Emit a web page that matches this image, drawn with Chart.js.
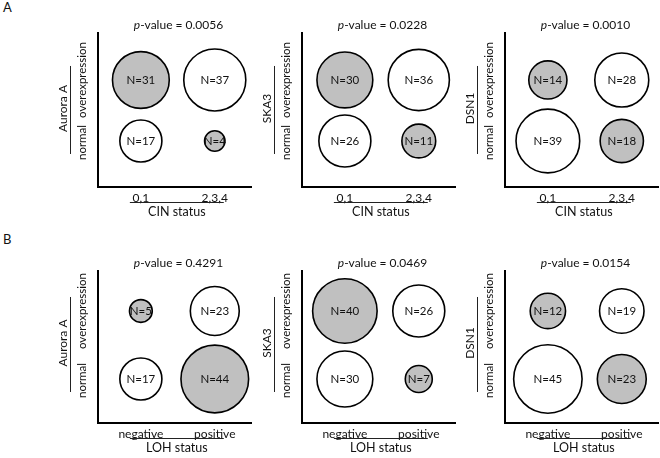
<!DOCTYPE html>
<html><head><meta charset="utf-8">
<script src="https://cdn.jsdelivr.net/npm/chart.js@4.4.1/dist/chart.umd.min.js"></script>
<style>
html,body{margin:0;padding:0;background:#fff;width:660px;height:458px;overflow:hidden;}
body{position:relative;font-family:Lato,sans-serif;}
canvas{position:absolute;}
.tag{position:absolute;font-family:Lato,sans-serif;font-size:13px;line-height:13px;color:#111;}
</style></head><body>
<div class="tag" style="left:3px;top:1px">A</div>
<div class="tag" style="left:3px;top:233px">B</div>
<script>
// ---------- data ----------
const cinStatus = ['0,1', '2,3,4'];
const lohStatus = ['negative', 'positive'];
const expressionLevels = ['normal', 'overexpression'];
const genes = ['Aurora A', 'SKA3', 'DSN1'];
const cinPValues = ['0.0056', '0.0228', '0.0010'];
const lohPValues = ['0.4291', '0.0469', '0.0154'];
// counts per expression level, ordered by status category [first, second]
const cinAuroraANormal = [17, 4];
const cinAuroraAOver   = [31, 37];
const cinSka3Normal    = [26, 11];
const cinSka3Over      = [30, 36];
const cinDsn1Normal    = [39, 18];
const cinDsn1Over      = [14, 28];
const lohAuroraANormal = [17, 44];
const lohAuroraAOver   = [5, 23];
const lohSka3Normal    = [30, 7];
const lohSka3Over      = [40, 26];
const lohDsn1Normal    = [45, 23];
const lohDsn1Over      = [12, 19];

// ---------- layout ----------
const FONT = 'Lato, sans-serif';
const TXT = '#111';
const GRAY = '#c0c0c0';
const axisLeft = [98, 302, 505];
const rows = [
  {top: 33, areaH: 154, bottomH: 40, yMin: -0.754, yMax: 1.77, cats: cinStatus, axisTitle: 'CIN status', p: cinPValues,
   normal: [cinAuroraANormal, cinSka3Normal, cinDsn1Normal], over: [cinAuroraAOver, cinSka3Over, cinDsn1Over]},
  {top: 271, areaH: 152, bottomH: 36, yMin: -0.647, yMax: 1.588, cats: lohStatus, axisTitle: 'LOH status', p: lohPValues,
   normal: [lohAuroraANormal, lohSka3Normal, lohDsn1Normal], over: [lohAuroraAOver, lohSka3Over, lohDsn1Over]}
];
const PADL = 50, PADR = 2, PADT = 30, AREAW = 153;

function rotText(ctx, text, x, y) {
  ctx.save(); ctx.translate(x, y); ctx.rotate(-Math.PI / 2);
  ctx.textAlign = 'center'; ctx.textBaseline = 'middle';
  ctx.fillText(text, 0, 0); ctx.restore();
}

function makePanel(row, gi) {
  const cv = document.createElement('canvas');
  const W = PADL + AREAW + PADR, H = PADT + row.areaH + row.bottomH;
  cv.width = W; cv.height = H;
  cv.style.left = (axisLeft[gi] - PADL) + 'px';
  cv.style.top = (row.top - PADT) + 'px';
  document.body.appendChild(cv);

  const normal = row.normal[gi], over = row.over[gi];
  const pts = [];
  [over, normal].forEach((arr, k) => {
    const yv = k === 0 ? 1 : 0;
    arr.forEach((n, xi) => pts.push({x: xi, y: yv, n: n, r: 5.1 * Math.sqrt(n)}));
  });

  const deco = {
    id: 'deco' + gi,
    afterDatasetsDraw(chart) {
      const ctx = chart.ctx;
      const meta = chart.getDatasetMeta(0);
      ctx.save();
      ctx.fillStyle = TXT;
      ctx.font = '11.5px ' + FONT;
      ctx.textAlign = 'center'; ctx.textBaseline = 'middle';
      meta.data.forEach((el, i) => ctx.fillText('N=' + pts[i].n, el.x, el.y + 0.5));
      ctx.restore();
    },
    afterDraw(chart) {
      const ctx = chart.ctx, a = chart.chartArea;
      const xs = chart.scales.x, ys = chart.scales.y;
      const yOver = ys.getPixelForValue(1), yNorm = ys.getPixelForValue(0);
      const x0 = xs.getPixelForValue(0), x1 = xs.getPixelForValue(1);
      ctx.save();
      ctx.fillStyle = TXT; ctx.strokeStyle = '#222'; ctx.lineWidth = 1;
      // title with italic p
      const rest = '-value = ' + row.p[gi];
      ctx.font = 'italic 12px ' + FONT; const wp = ctx.measureText('p').width;
      ctx.font = '12px ' + FONT; const wr = ctx.measureText(rest).width;
      const cx = (a.left + a.right) / 2 + 4;
      const ty = a.top - 8;
      const sx = cx - (wp + wr) / 2;
      ctx.textAlign = 'left'; ctx.textBaseline = 'middle';
      ctx.font = 'italic 12px ' + FONT; ctx.fillText('p', sx, ty);
      ctx.font = '12px ' + FONT; ctx.fillText(rest, sx + wp, ty);
      // y-side labels
      ctx.font = '11.5px ' + FONT;
      rotText(ctx, expressionLevels[1], a.left - 16, yOver);
      rotText(ctx, expressionLevels[0], a.left - 16, yNorm + 1.5);
      ctx.beginPath();
      ctx.moveTo(a.left - 27.5, yOver - 14); ctx.lineTo(a.left - 27.5, yNorm + 13); ctx.stroke();
      ctx.font = '12px ' + FONT;
      rotText(ctx, genes[gi], a.left - 35, (yOver + yNorm) / 2 - 2);
      // x-side underline and title
      ctx.beginPath();
      const uy = a.bottom + 15.5;
      ctx.moveTo(x0 - 11, uy); ctx.lineTo(x1 + 9, uy); ctx.stroke();
      ctx.textAlign = 'center';
      ctx.font = '12.5px ' + FONT;
      ctx.fillText(row.axisTitle, (x0 + x1) / 2 - 1, a.bottom + 24.5);
      ctx.restore();
    }
  };

  new Chart(cv, {
    type: 'bubble',
    data: {datasets: [{
      data: pts,
      backgroundColor: c => (c.raw && c.raw.x !== c.raw.y) ? GRAY : '#ffffff',
      borderColor: '#000',
      borderWidth: 1.6,
      clip: false
    }]},
    options: {
      responsive: false, animation: false, devicePixelRatio: 1, events: [],
      layout: {autoPadding: false, padding: {left: PADL, right: PADR, top: PADT, bottom: 0}},
      plugins: {legend: {display: false}, tooltip: {enabled: false}},
      scales: {
        x: {type: 'linear', min: -0.58, max: 1.49,
            grid: {display: false, drawTicks: false},
            border: {display: true, color: '#000', width: 2},
            afterBuildTicks: s => { s.ticks = [{value: 0}, {value: 1}]; },
            ticks: {callback: v => row.cats[v], font: {family: FONT, size: 12}, color: TXT, padding: 3.5, maxRotation: 0, autoSkip: false},
            afterFit: s => { s.height = row.bottomH; }},
        y: {type: 'linear', min: row.yMin, max: row.yMax,
            grid: {display: false, drawTicks: false},
            border: {display: true, color: '#000', width: 2},
            ticks: {display: false},
            afterFit: s => { s.width = 0; }}
      }
    },
    plugins: [deco]
  });
}

rows.forEach(row => [0, 1, 2].forEach(gi => makePanel(row, gi)));
</script>
</body></html>
